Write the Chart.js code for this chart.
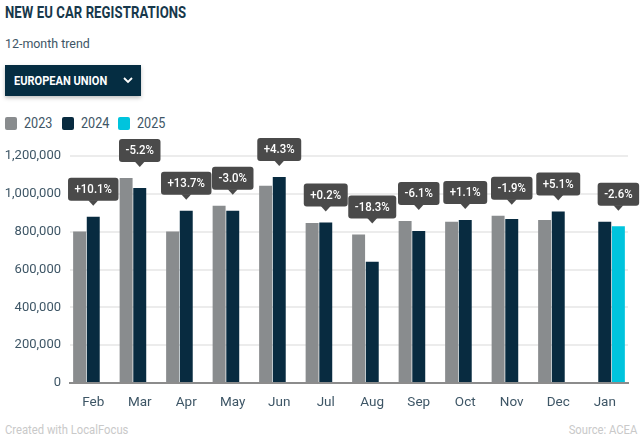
<!DOCTYPE html>
<html>
<head>
<meta charset="utf-8">
<script src="https://cdn.jsdelivr.net/npm/chart.js@4.4.1/dist/chart.umd.min.js"></script>
<style>
  html, body { margin: 0; padding: 0; background: #fff; }
  body { width: 642px; height: 440px; position: relative; overflow: hidden; font-family: Roboto, "Noto Sans", sans-serif; }
  .title { position: absolute; left: 5px; top: 3px; font-size: 16px; font-weight: 700; color: #17384b;
           transform: scaleX(0.82); transform-origin: left top; white-space: nowrap; letter-spacing: 0.1px; }
  .sub { position: absolute; left: 5px; top: 35px; font-size: 13.5px; color: #3e5666; transform: scaleX(0.92); transform-origin: left top; }
  .btn { position: absolute; left: 5px; top: 65px; width: 136px; height: 31px; background: #052d42;
         box-shadow: 0 2px 4px rgba(0,0,0,0.25); color: #fff; }
  .btn span { position: absolute; left: 9px; top: 8px; font-size: 13px; font-weight: 700; transform: scaleX(0.85); transform-origin: left top; white-space: nowrap; }
  .btn svg { position: absolute; left: 118px; top: 12px; }
  .legend { position: absolute; left: 5px; top: 115px; font-size: 14px; color: #3e5666; }
  .legend .item { position: absolute; top: 0; white-space: nowrap; }
  .legend .sw { position: absolute; top: 2px; width: 12px; height: 13px; border-radius: 2px; }
  .legend .lab { position: absolute; left: 19px; top: 0; transform: scaleX(0.9); transform-origin: left top; }
  #wrap { position: absolute; left: 0; top: 131px; width: 642px; height: 280px; }
  .foot { position: absolute; top: 422px; font-size: 12.5px; color: #c9c9c9; transform: scaleX(0.9); white-space: nowrap; }
</style>
</head>
<body>
<div class="title">NEW EU CAR REGISTRATIONS</div>
<div class="sub">12-month trend</div>
<div class="btn"><span>EUROPEAN UNION</span>
  <svg width="10" height="7" viewBox="0 0 10 7"><polyline points="1,1 5,5 9,1" fill="none" stroke="#fff" stroke-width="1.8"/></svg>
</div>
<div class="legend" id="legend"></div>
<div id="wrap"><canvas id="chart"></canvas></div>
<div class="foot" style="left:5px; transform-origin:left top;">Created with LocalFocus</div>
<div class="foot" style="right:5px; transform-origin:right top;">Source: ACEA</div>
<script>
const months = ["Feb", "Mar", "Apr", "May", "Jun", "Jul", "Aug", "Sep", "Oct", "Nov", "Dec", "Jan"];
const seriesNames = ["2023", "2024", "2025"];
const values2023 = [801000, 1084000, 801000, 937000, 1043000, 846000, 785000, 857000, 852000, 884000, 862000, null];
const values2024 = [879000, 1031000, 911000, 910000, 1089000, 848000, 641000, 804000, 862000, 867000, 906000, 852000];
const values2025 = [null, null, null, null, null, null, null, null, null, null, null, 829000];
const changes = [10.1, -5.2, 13.7, -3.0, 4.3, 0.2, -18.3, -6.1, 1.1, -1.9, 5.1, -2.6];
const yTicks = [0, 200000, 400000, 600000, 800000, 1000000, 1200000];

const colors = ["#898c8e", "#082b40", "#00c4dd"];

// legend
const legendEl = document.getElementById("legend");
const legendX = [0, 57, 113];
seriesNames.forEach((name, i) => {
    const item = document.createElement("div");
    item.className = "item";
    item.style.left = legendX[i] + "px";
    item.innerHTML = `<div class="sw" style="background:${colors[i]}"></div><div class="lab">${name}</div>`;
    legendEl.appendChild(item);
});

const fmtChange = (v) => (v > 0 ? "+" : "") + v.toFixed(1) + "%";

const calloutPlugin = {
    id: "callouts",
    afterDatasetsDraw(chart) {
        const ctx = chart.ctx;
        const yScale = chart.scales.y;
        const sx = 0.88;
        ctx.save();
        ctx.font = "500 13px Roboto";
        ctx.textAlign = "center";
        ctx.textBaseline = "middle";
        months.forEach((m, i) => {
            const cur = values2025[i] != null ? 2 : 1;
            const bar = chart.getDatasetMeta(cur).data[i];
            const x = bar.x;
            const top = Math.max(values2023[i] ?? 0, values2024[i] ?? 0, values2025[i] ?? 0);
            const tipY = yScale.getPixelForValue(top) - 11;
            const txt = fmtChange(changes[i]);
            const w = ctx.measureText(txt).width * sx + 13;
            const h = 23;
            const bx = x - w / 2, by = tipY - 5 - h;
            ctx.fillStyle = "#4a4a4a";
            ctx.beginPath();
            ctx.roundRect(bx, by, w, h, 3);
            ctx.fill();
            ctx.beginPath();
            ctx.moveTo(x - 5, by + h - 0.5);
            ctx.lineTo(x, tipY);
            ctx.lineTo(x + 5, by + h - 0.5);
            ctx.closePath();
            ctx.fill();
            ctx.fillStyle = "#ffffff";
            ctx.save();
            ctx.translate(x, by + h / 2 + 0.5);
            ctx.scale(sx, 1);
            ctx.fillText(txt, 0, 0);
            ctx.restore();
        });
        ctx.restore();
    },
};

const ctx = document.getElementById("chart").getContext("2d");
new Chart(ctx, {
    type: "bar",
    data: {
        labels: months,
        datasets: [values2023, values2024, values2025].map((vals, i) => ({
            label: seriesNames[i],
            data: vals,
            backgroundColor: colors[i],
            categoryPercentage: 0.88,
            barPercentage: 0.95,
        })),
    },
    options: {
        responsive: true,
        maintainAspectRatio: false,
        animation: false,
        layout: { padding: { top: 25, right: 14, left: 0, bottom: 0 } },
        plugins: {
            legend: { display: false },
            tooltip: { enabled: false },
        },
        scales: {
            x: {
                grid: { display: false },
                border: { color: "#8c8c8c", width: 2 },
                ticks: { color: "#3e5666", font: { family: "Roboto", size: 13.5 }, padding: 4 },
                afterFit(scale) { scale.height = 28; },
            },
            y: {
                min: 0,
                max: 1200000,
                afterBuildTicks(scale) { scale.ticks = yTicks.map((v) => ({ value: v })); },
                grid: { color: "#ececec", lineWidth: 2, drawTicks: false },
                border: { display: false },
                ticks: {
                    color: "#3e5666",
                    font: { family: "Roboto", size: 13 },
                    padding: 9,
                    callback: (v) => Number(v).toLocaleString("en-US"),
                },
                afterFit(scale) { scale.width = 70; },
            },
        },
    },
    plugins: [calloutPlugin],
});
</script>
</body>
</html>
